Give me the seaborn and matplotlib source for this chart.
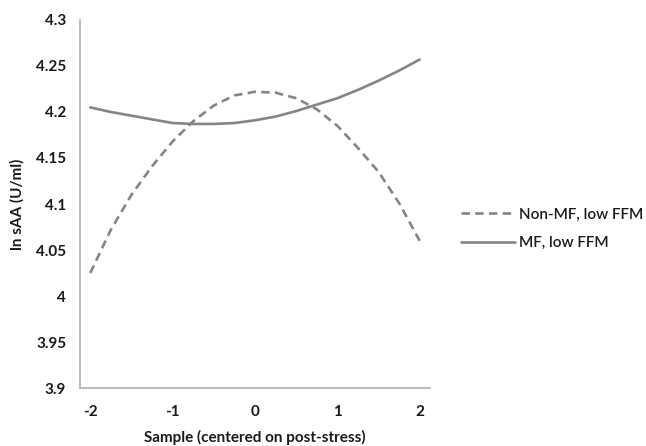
import numpy as np
import pandas as pd
import matplotlib
matplotlib.use("Agg")
import matplotlib.pyplot as plt
import seaborn as sns

sample = [-2, -1.75, -1.5, -1.25, -1, -0.75, -0.5, -0.25, 0,
          0.25, 0.5, 0.75, 1, 1.25, 1.5, 1.75, 2]
non_mf = [4.025, 4.072, 4.110, 4.141, 4.168, 4.190, 4.207, 4.218, 4.222,
          4.221, 4.215, 4.203, 4.185, 4.161, 4.135, 4.101, 4.060]
mf = [4.205, 4.200, 4.196, 4.192, 4.188, 4.187, 4.187, 4.188, 4.191,
      4.195, 4.201, 4.208, 4.215, 4.224, 4.234, 4.245, 4.257]
series_names = ["Non-MF, low FFM", "MF, low FFM"]
x_ticks = [-2, -1, 0, 1, 2]
y_ticks = [3.9, 3.95, 4, 4.05, 4.1, 4.15, 4.2, 4.25, 4.3]

sns.set_style("white")
plt.rcParams["font.family"] = ["Lato", "DejaVu Sans"]

df = pd.DataFrame({
    "sample": sample * 2,
    "value": non_mf + mf,
    "group": [series_names[0]] * len(sample) + [series_names[1]] * len(sample),
})

fig = plt.figure(figsize=(6.46, 4.46), dpi=100)
ax = fig.add_axes([0.1238, 0.130, 0.5418, 0.8252])

line_col = "#858585"
sns.lineplot(data=df, x="sample", y="value", hue="group", style="group",
             palette={series_names[0]: line_col, series_names[1]: line_col},
             dashes={series_names[0]: (3.2, 2.0), series_names[1]: ""},
             linewidth=1.9, ax=ax, legend=False)

ax.set_xlim(-2.125, 2.125)
ax.set_ylim(3.9, 4.3)
ax.set_yticks(y_ticks)
ax.set_yticklabels(["3.9", "3.95", "4", "4.05", "4.1", "4.15", "4.2", "4.25", "4.3"])
ax.set_xticks(x_ticks)
ax.set_xticklabels(["-2", "-1", "0", "1", "2"])
ax.set_xticks(np.arange(-2.125, 2.126, 0.25), minor=True)

spine_col = "#b5b5b5"
for side in ["top", "right"]:
    ax.spines[side].set_visible(False)
for side in ["left", "bottom"]:
    ax.spines[side].set_color(spine_col)
    ax.spines[side].set_linewidth(1.3)

ax.tick_params(axis="y", direction="out", length=4, width=1.2, color=spine_col,
               labelsize=11, labelcolor="#1a1a1a", pad=6)
ax.tick_params(axis="x", which="major", length=0, labelsize=11,
               labelcolor="#1a1a1a", pad=12)
ax.tick_params(axis="x", which="minor", direction="out", length=4, width=1.2,
               color=spine_col)
for lab in ax.get_xticklabels() + ax.get_yticklabels():
    lab.set_fontweight("bold")

ax.set_xlabel("Sample (centered on post-stress)", fontsize=11,
              fontweight="bold", color="#1a1a1a", labelpad=8)
ax.set_ylabel("ln sAA (U/ml)", fontsize=11, fontweight="bold",
              color="#1a1a1a", labelpad=8)

handles = [
    plt.Line2D([], [], color=line_col, linewidth=1.9, dashes=(3.2, 2.0)),
    plt.Line2D([], [], color=line_col, linewidth=1.9),
]
leg = ax.legend(handles, series_names, loc="center left",
                bbox_to_anchor=(1.05, 0.432), frameon=False,
                prop={"size": 11, "weight": "semibold"},
                handlelength=3.5, handletextpad=0.3, labelspacing=0.95,
                labelcolor="#1a1a1a")

fig.savefig("out.png", dpi=100)
